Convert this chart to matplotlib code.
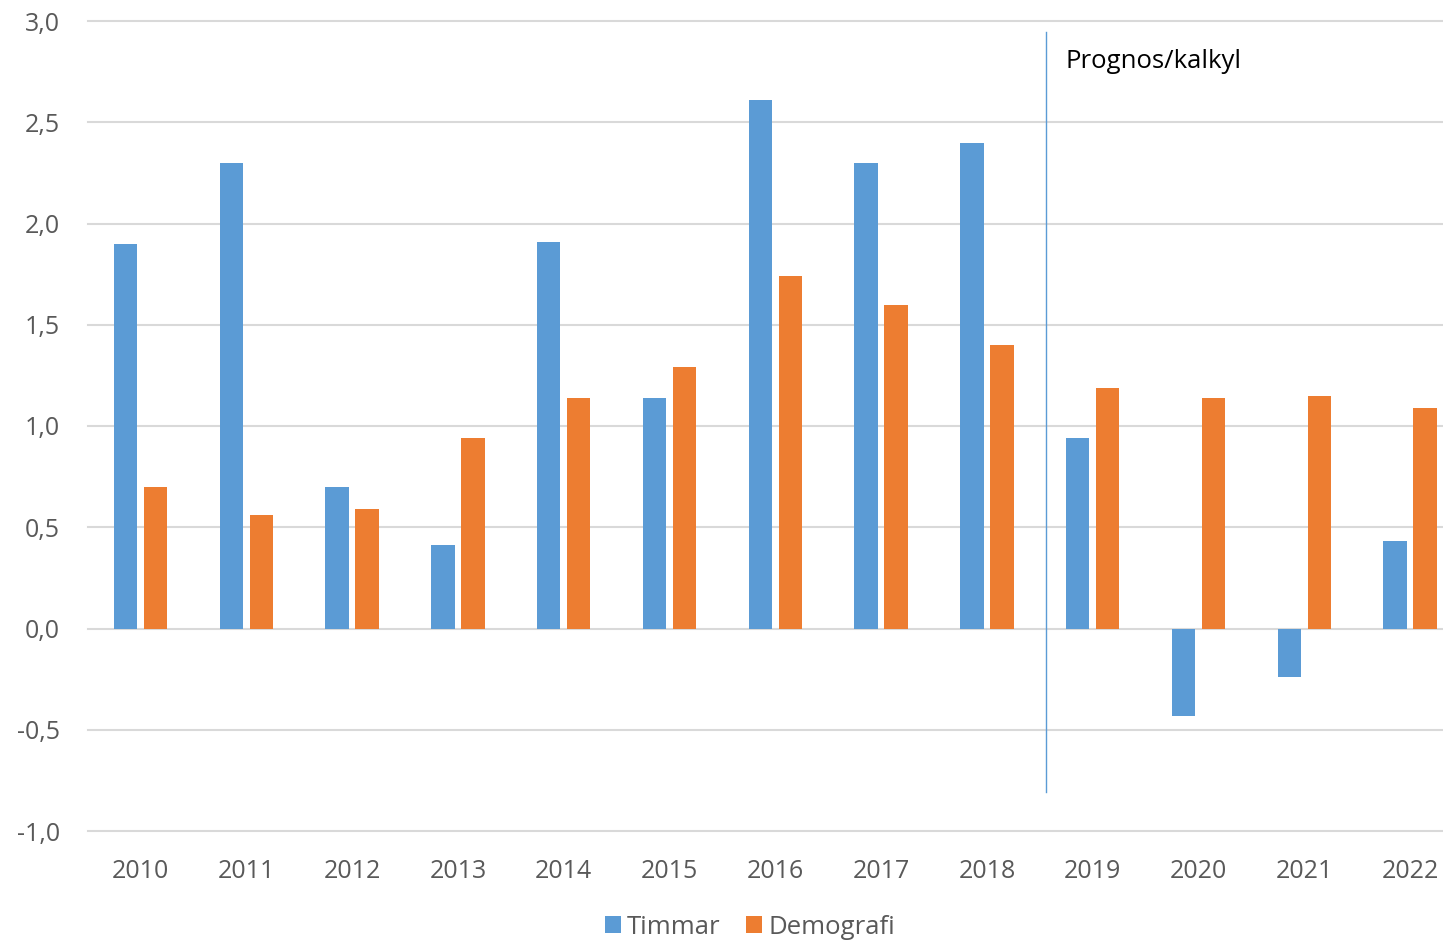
import matplotlib
matplotlib.use("Agg")
import matplotlib.pyplot as plt
import numpy as np

years = ["2010", "2011", "2012", "2013", "2014", "2015", "2016", "2017", "2018",
         "2019", "2020", "2021", "2022"]
timmar = [1.90, 2.30, 0.70, 0.41, 1.91, 1.14, 2.61, 2.30, 2.40, 0.94, -0.43, -0.24, 0.43]
demografi = [0.70, 0.56, 0.59, 0.94, 1.14, 1.29, 1.74, 1.60, 1.40, 1.19, 1.14, 1.15, 1.09]
yticks = [-1.0, -0.5, 0.0, 0.5, 1.0, 1.5, 2.0, 2.5, 3.0]
ytick_labels = ["-1,0", "-0,5", "0,0", "0,5", "1,0", "1,5", "2,0", "2,5", "3,0"]

plt.rcParams['font.family'] = ['Open Sans', 'DejaVu Sans']

W, H = 1443, 942
fig = plt.figure(figsize=(W / 100, H / 100), dpi=100)
# category spacing ~105.8 px, first category centre at x=140.5
cat = 105.8
left = 140.5 - 0.5 * cat
ax_w = 13 * cat
ax = fig.add_axes([left / W, 1 - 831 / H, ax_w / W, (831 - 21) / H])

x = np.arange(len(years))
bw = 0.222
off = 0.142
ax.bar(x - off, timmar, bw, color="#5B9BD5", label="Timmar", zorder=3)
ax.bar(x + off, demografi, bw, color="#ED7D31", label="Demografi", zorder=3)

ax.set_xlim(-0.5, len(years) - 0.5)
ax.set_ylim(-1.0, 3.0)
ax.set_yticks(yticks)
ax.set_yticklabels(ytick_labels)
ax.set_xticks(x)
ax.set_xticklabels(years)
# gridlines end at the figure edge (x=1443)
for yv in yticks:
    ax.plot([-0.5, -0.5 + (1443 - left) / cat], [yv, yv], color="#D9D9D9",
            linewidth=1.5, zorder=0, clip_on=False)
for s in ax.spines.values():
    s.set_visible(False)
ax.tick_params(axis="both", length=0, labelsize=18, colors="#595959")
ax.tick_params(axis="y", pad=(left - 60) * 0.72)
ax.tick_params(axis="x", pad=20.5)

# forecast divider
xl = (1046 - 140.5) / cat
ax.plot([xl, xl], [2.945, -0.805], color="#5B9BD5", linewidth=1.0, zorder=4)
ax.text((1066 - 140.5) / cat, 2.80, "Prognos/kalkyl", fontsize=18.5, color="black",
        va="center", ha="left")

fig.legend(loc="center", bbox_to_anchor=(750 / W, 1 - 927 / H), ncol=2, frameon=False,
           fontsize=18.5, handlelength=0.6, handleheight=0.6, handletextpad=0.25,
           columnspacing=1.0, labelcolor="#595959")

fig.savefig("out.png", dpi=100)
